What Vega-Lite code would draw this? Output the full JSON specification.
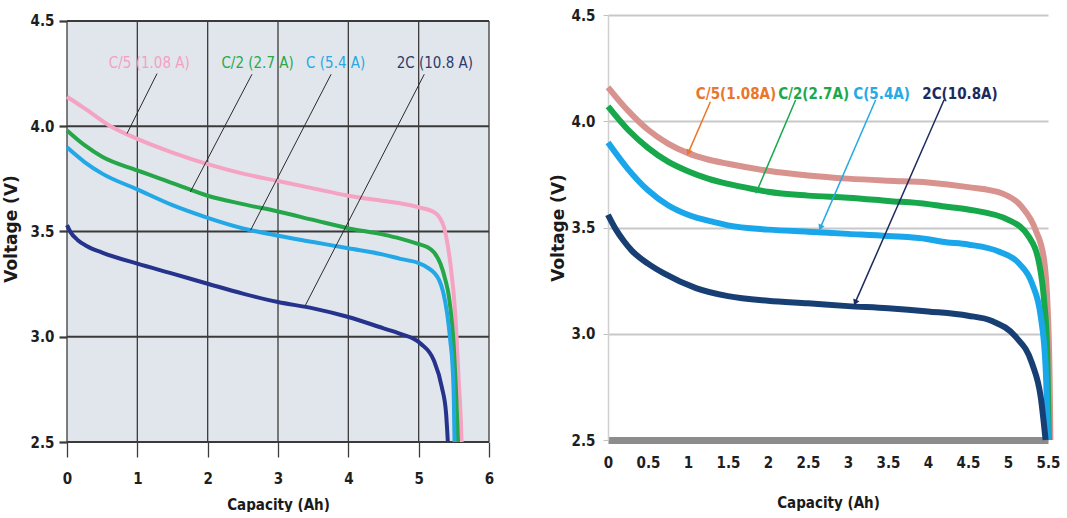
{
  "$schema": "https://vega.github.io/schema/vega-lite/v6.json",
  "background": "white",
  "padding": {"left": 2, "top": 8, "right": 0, "bottom": 0},
  "spacing": 55,
  "datasets": {
    "L": [
      {"s": "C/5", "x": 0, "v": 4.14}, {"s": "C/5", "x": 0.25, "v": 4.085}, {"s": "C/5", "x": 0.62, "v": 4.0}, {"s": "C/5", "x": 1, "v": 3.94}, {"s": "C/5", "x": 1.5, "v": 3.875}, {"s": "C/5", "x": 2, "v": 3.82}, {"s": "C/5", "x": 2.5, "v": 3.775}, {"s": "C/5", "x": 3, "v": 3.74}, {"s": "C/5", "x": 3.5, "v": 3.705}, {"s": "C/5", "x": 4, "v": 3.67}, {"s": "C/5", "x": 4.5, "v": 3.645}, {"s": "C/5", "x": 4.75, "v": 3.633}, {"s": "C/5", "x": 5, "v": 3.615}, {"s": "C/5", "x": 5.2, "v": 3.595}, {"s": "C/5", "x": 5.3, "v": 3.565}, {"s": "C/5", "x": 5.36, "v": 3.52}, {"s": "C/5", "x": 5.42, "v": 3.42}, {"s": "C/5", "x": 5.45, "v": 3.35}, {"s": "C/5", "x": 5.52, "v": 3.11}, {"s": "C/5", "x": 5.57, "v": 2.79}, {"s": "C/5", "x": 5.6, "v": 2.6}, {"s": "C/5", "x": 5.61, "v": 2.5},
      {"s": "C/2", "x": 0, "v": 3.98}, {"s": "C/2", "x": 0.25, "v": 3.91}, {"s": "C/2", "x": 0.5, "v": 3.855}, {"s": "C/2", "x": 1, "v": 3.79}, {"s": "C/2", "x": 1.5, "v": 3.73}, {"s": "C/2", "x": 2, "v": 3.67}, {"s": "C/2", "x": 2.5, "v": 3.63}, {"s": "C/2", "x": 3, "v": 3.595}, {"s": "C/2", "x": 3.5, "v": 3.555}, {"s": "C/2", "x": 4, "v": 3.515}, {"s": "C/2", "x": 4.5, "v": 3.485}, {"s": "C/2", "x": 4.74, "v": 3.466}, {"s": "C/2", "x": 5, "v": 3.44}, {"s": "C/2", "x": 5.12, "v": 3.426}, {"s": "C/2", "x": 5.22, "v": 3.4}, {"s": "C/2", "x": 5.31, "v": 3.347}, {"s": "C/2", "x": 5.38, "v": 3.27}, {"s": "C/2", "x": 5.43, "v": 3.19}, {"s": "C/2", "x": 5.5, "v": 2.95}, {"s": "C/2", "x": 5.53, "v": 2.75}, {"s": "C/2", "x": 5.56, "v": 2.5},
      {"s": "C", "x": 0, "v": 3.9}, {"s": "C", "x": 0.25, "v": 3.83}, {"s": "C", "x": 0.5, "v": 3.775}, {"s": "C", "x": 1, "v": 3.7}, {"s": "C", "x": 1.5, "v": 3.625}, {"s": "C", "x": 2, "v": 3.565}, {"s": "C", "x": 2.5, "v": 3.515}, {"s": "C", "x": 3, "v": 3.48}, {"s": "C", "x": 3.5, "v": 3.45}, {"s": "C", "x": 4, "v": 3.42}, {"s": "C", "x": 4.5, "v": 3.39}, {"s": "C", "x": 4.74, "v": 3.37}, {"s": "C", "x": 5, "v": 3.35}, {"s": "C", "x": 5.12, "v": 3.33}, {"s": "C", "x": 5.29, "v": 3.27}, {"s": "C", "x": 5.35, "v": 3.21}, {"s": "C", "x": 5.405, "v": 3.11}, {"s": "C", "x": 5.45, "v": 2.98}, {"s": "C", "x": 5.48, "v": 2.87}, {"s": "C", "x": 5.5, "v": 2.7}, {"s": "C", "x": 5.51, "v": 2.5},
      {"s": "2C", "x": 0, "v": 3.53}, {"s": "2C", "x": 0.05, "v": 3.497}, {"s": "2C", "x": 0.15, "v": 3.46}, {"s": "2C", "x": 0.285, "v": 3.43}, {"s": "2C", "x": 0.5, "v": 3.4}, {"s": "2C", "x": 1, "v": 3.347}, {"s": "2C", "x": 1.5, "v": 3.3}, {"s": "2C", "x": 2, "v": 3.252}, {"s": "2C", "x": 2.5, "v": 3.205}, {"s": "2C", "x": 3, "v": 3.165}, {"s": "2C", "x": 3.5, "v": 3.135}, {"s": "2C", "x": 4, "v": 3.094}, {"s": "2C", "x": 4.5, "v": 3.04}, {"s": "2C", "x": 4.74, "v": 3.014}, {"s": "2C", "x": 5.03, "v": 2.967}, {"s": "2C", "x": 5.215, "v": 2.888}, {"s": "2C", "x": 5.33, "v": 2.76}, {"s": "2C", "x": 5.39, "v": 2.635}, {"s": "2C", "x": 5.415, "v": 2.5}
    ],
    "LT": [
      {"s": "C/5", "label": "C/5 (1.08 A)", "x": 1.17, "v": 4.3},
      {"s": "C/2", "label": "C/2 (2.7 A)", "x": 2.71, "v": 4.3},
      {"s": "C", "label": "C (5.4 A)", "x": 3.82, "v": 4.3},
      {"s": "2C", "label": "2C (10.8 A)", "x": 5.23, "v": 4.3}
    ],
    "LL": [
      {"s": "C/5", "x1": 1.28, "v1": 4.25, "x2": 0.853, "v2": 3.965},
      {"s": "C/2", "x1": 2.63, "v1": 4.247, "x2": 1.754, "v2": 3.688},
      {"s": "C", "x1": 3.755, "v1": 4.247, "x2": 2.61, "v2": 3.506},
      {"s": "2C", "x1": 5.08, "v1": 4.247, "x2": 3.39, "v2": 3.15}
    ],
    "LBG": [{"x1": 0, "x2": 6, "v1": 2.5, "v2": 4.5}],
    "LGV": [{"g": 0}, {"g": 1}, {"g": 2}, {"g": 3}, {"g": 4}, {"g": 5}, {"g": 6}],
    "LGH": [{"h": 2.5}, {"h": 3}, {"h": 3.5}, {"h": 4}, {"h": 4.5}],
    "R": [
      {"s": "C/5", "x": 0, "v": 4.16}, {"s": "C/5", "x": 0.25, "v": 4.05}, {"s": "C/5", "x": 0.5, "v": 3.96}, {"s": "C/5", "x": 0.75, "v": 3.895}, {"s": "C/5", "x": 1, "v": 3.85}, {"s": "C/5", "x": 1.25, "v": 3.82}, {"s": "C/5", "x": 1.5, "v": 3.8}, {"s": "C/5", "x": 2, "v": 3.767}, {"s": "C/5", "x": 2.5, "v": 3.745}, {"s": "C/5", "x": 3, "v": 3.73}, {"s": "C/5", "x": 3.5, "v": 3.72}, {"s": "C/5", "x": 4, "v": 3.712}, {"s": "C/5", "x": 4.5, "v": 3.69}, {"s": "C/5", "x": 4.93, "v": 3.66}, {"s": "C/5", "x": 5.17, "v": 3.598}, {"s": "C/5", "x": 5.345, "v": 3.488}, {"s": "C/5", "x": 5.45, "v": 3.35}, {"s": "C/5", "x": 5.5, "v": 3.08}, {"s": "C/5", "x": 5.52, "v": 2.8}, {"s": "C/5", "x": 5.53, "v": 2.5},
      {"s": "C/2", "x": 0, "v": 4.07}, {"s": "C/2", "x": 0.25, "v": 3.96}, {"s": "C/2", "x": 0.5, "v": 3.875}, {"s": "C/2", "x": 0.75, "v": 3.81}, {"s": "C/2", "x": 1, "v": 3.765}, {"s": "C/2", "x": 1.25, "v": 3.73}, {"s": "C/2", "x": 1.5, "v": 3.705}, {"s": "C/2", "x": 1.87, "v": 3.677}, {"s": "C/2", "x": 2, "v": 3.668}, {"s": "C/2", "x": 2.5, "v": 3.65}, {"s": "C/2", "x": 3, "v": 3.64}, {"s": "C/2", "x": 3.5, "v": 3.625}, {"s": "C/2", "x": 4, "v": 3.61}, {"s": "C/2", "x": 4.18, "v": 3.6}, {"s": "C/2", "x": 4.5, "v": 3.585}, {"s": "C/2", "x": 5.01, "v": 3.535}, {"s": "C/2", "x": 5.26, "v": 3.457}, {"s": "C/2", "x": 5.39, "v": 3.33}, {"s": "C/2", "x": 5.45, "v": 3.16}, {"s": "C/2", "x": 5.49, "v": 2.92}, {"s": "C/2", "x": 5.51, "v": 2.5},
      {"s": "C", "x": 0, "v": 3.9}, {"s": "C", "x": 0.25, "v": 3.775}, {"s": "C", "x": 0.5, "v": 3.675}, {"s": "C", "x": 0.75, "v": 3.605}, {"s": "C", "x": 1, "v": 3.56}, {"s": "C", "x": 1.325, "v": 3.525}, {"s": "C", "x": 1.5, "v": 3.51}, {"s": "C", "x": 2, "v": 3.49}, {"s": "C", "x": 2.5, "v": 3.48}, {"s": "C", "x": 3, "v": 3.47}, {"s": "C", "x": 3.5, "v": 3.46}, {"s": "C", "x": 4, "v": 3.445}, {"s": "C", "x": 4.18, "v": 3.433}, {"s": "C", "x": 4.5, "v": 3.42}, {"s": "C", "x": 4.89, "v": 3.386}, {"s": "C", "x": 5.14, "v": 3.33}, {"s": "C", "x": 5.3, "v": 3.237}, {"s": "C", "x": 5.41, "v": 3.08}, {"s": "C", "x": 5.47, "v": 2.845}, {"s": "C", "x": 5.5, "v": 2.5},
      {"s": "2C", "x": 0, "v": 3.56}, {"s": "2C", "x": 0.1, "v": 3.49}, {"s": "2C", "x": 0.2, "v": 3.435}, {"s": "2C", "x": 0.3, "v": 3.39}, {"s": "2C", "x": 0.5, "v": 3.33}, {"s": "2C", "x": 0.7, "v": 3.284}, {"s": "2C", "x": 1.1, "v": 3.215}, {"s": "2C", "x": 1.5, "v": 3.177}, {"s": "2C", "x": 2, "v": 3.155}, {"s": "2C", "x": 2.5, "v": 3.143}, {"s": "2C", "x": 3, "v": 3.13}, {"s": "2C", "x": 3.5, "v": 3.12}, {"s": "2C", "x": 4, "v": 3.105}, {"s": "2C", "x": 4.5, "v": 3.085}, {"s": "2C", "x": 4.8, "v": 3.06}, {"s": "2C", "x": 5.095, "v": 2.986}, {"s": "2C", "x": 5.3, "v": 2.861}, {"s": "2C", "x": 5.41, "v": 2.7}, {"s": "2C", "x": 5.47, "v": 2.5}
    ],
    "RT": [
      {"s": "C/5", "label": "C/5(1.08A)", "x": 1.6, "v": 4.13},
      {"s": "C/2", "label": "C/2(2.7A)", "x": 2.57, "v": 4.13},
      {"s": "C", "label": "C(5.4A)", "x": 3.42, "v": 4.13},
      {"s": "2C", "label": "2C(10.8A)", "x": 4.4, "v": 4.13}
    ],
    "RA": [
      {"s": "C/5", "x1": 1.28, "v1": 4.092, "x2": 1.01, "v2": 3.857},
      {"s": "C/2", "x1": 2.345, "v1": 4.1, "x2": 1.866, "v2": 3.676},
      {"s": "C", "x1": 3.345, "v1": 4.1, "x2": 2.66, "v2": 3.504},
      {"s": "2C", "x1": 4.2, "v1": 4.1, "x2": 3.095, "v2": 3.151}
    ]
  },
  "hconcat": [
    {
      "width": 422,
      "height": 427,
      "view": {"stroke": null},
      "resolve": {"scale": {"color": "independent"}},
      "layer": [
        {
          "data": {"name": "LBG"},
          "mark": {"type": "rect", "color": "#e1e6ec"},
          "encoding": {
            "x": {"field": "x1", "type": "quantitative", "scale": {"domain": [0, 6], "nice": false, "zero": false},
              "axis": {"title": "Capacity (Ah)", "values": [0, 1, 2, 3, 4, 5, 6], "format": "d", "labelFlush": false, "grid": false, "domain": false, "tickColor": "#3c3c3c", "tickWidth": 1.3, "tickSize": 15, "labelPadding": 14, "titlePadding": 11, "titleFont": "DejaVu Sans Condensed", "titleFontSize": 15}},
            "x2": {"field": "x2"},
            "y": {"field": "v1", "type": "quantitative", "scale": {"domain": [2.5, 4.5285], "nice": false, "zero": false},
              "axis": {"title": "Voltage (V)", "values": [2.5, 3, 3.5, 4, 4.5], "format": ".1f", "grid": false, "domain": false, "tickColor": "#3a3a3a", "tickWidth": 2.2, "tickSize": 8, "labelPadding": 5, "titlePadding": 10, "titleFont": "DejaVu Sans", "titleFontSize": 17}},
            "y2": {"field": "v2"}
          }
        },
        {
          "data": {"name": "LGV"},
          "mark": {"type": "rule", "color": "#3c3c3c", "strokeWidth": 1.3},
          "encoding": {
            "x": {"field": "g", "type": "quantitative"},
            "y": {"datum": 2.5, "type": "quantitative"},
            "y2": {"datum": 4.5}
          }
        },
        {
          "data": {"name": "LGH"},
          "mark": {"type": "rule", "color": "#3a3a3a", "strokeWidth": 2.2},
          "encoding": {
            "y": {"field": "h", "type": "quantitative"},
            "x": {"datum": 0, "type": "quantitative"},
            "x2": {"datum": 6}
          }
        },
        {
          "data": {"name": "L"},
          "mark": {"type": "line", "strokeWidth": 4, "interpolate": "monotone"},
          "encoding": {
            "x": {"field": "x", "type": "quantitative"},
            "y": {"field": "v", "type": "quantitative"},
            "color": {"field": "s", "type": "nominal", "legend": null,
              "scale": {"domain": ["C/5", "C/2", "C", "2C"], "range": ["#f5a3c3", "#25a649", "#22a8e6", "#26338c"]}}
          }
        },
        {
          "data": {"name": "LL"},
          "mark": {"type": "rule", "color": "#2b2b2b", "strokeWidth": 1},
          "encoding": {
            "x": {"field": "x1", "type": "quantitative"},
            "y": {"field": "v1", "type": "quantitative"},
            "x2": {"field": "x2"},
            "y2": {"field": "v2"}
          }
        },
        {
          "data": {"name": "LT"},
          "mark": {"type": "text", "font": "DejaVu Sans Condensed", "fontSize": 15, "baseline": "middle", "align": "center"},
          "encoding": {
            "x": {"field": "x", "type": "quantitative"},
            "y": {"field": "v", "type": "quantitative"},
            "text": {"field": "label"},
            "color": {"field": "s", "type": "nominal", "legend": null,
              "scale": {"domain": ["C/5", "C/2", "C", "2C"], "range": ["#f4a1c1", "#2aa84a", "#28a9e1", "#303a6a"]}}
          }
        }
      ]
    },
    {
      "width": 440,
      "height": 425,
      "view": {"stroke": null},
      "resolve": {"scale": {"color": "independent"}},
      "layer": [
        {
          "data": {"name": "R"},
          "mark": {"type": "line", "strokeWidth": 6, "interpolate": "monotone"},
          "encoding": {
            "x": {"field": "x", "type": "quantitative", "scale": {"domain": [0, 5.5], "nice": false, "zero": false},
              "axis": {"title": "Capacity (Ah)", "values": [0, 0.5, 1, 1.5, 2, 2.5, 3, 3.5, 4, 4.5, 5, 5.5], "tickCount": 12, "labelExpr": "format(datum.value, '~g')", "labelFlush": false, "labelOverlap": false, "labelBound": false, "grid": false, "domain": true, "domainColor": "#8c8c8c", "domainWidth": 7, "ticks": false, "labelPadding": 15, "titlePadding": 25, "titleFont": "DejaVu Sans Condensed", "titleFontSize": 15}},
            "y": {"field": "v", "type": "quantitative", "scale": {"domain": [2.5, 4.5], "nice": false, "zero": false},
              "axis": {"title": "Voltage (V)", "values": [2.5, 3, 3.5, 4, 4.5], "format": ".1f", "grid": true, "gridColor": "#c8c8c8", "gridWidth": 2, "domain": true, "domainColor": "#d0d0d0", "domainWidth": 1.5, "tickColor": "#c0c0c0", "tickSize": 5, "labelPadding": 8, "titlePadding": 4, "titleFont": "DejaVu Sans", "titleFontSize": 17}},
            "color": {"field": "s", "type": "nominal", "legend": null,
              "scale": {"domain": ["C/5", "C/2", "C", "2C"], "range": ["#d8938e", "#17a84b", "#1aa6ea", "#183f73"]}}
          }
        },
        {
          "data": {"name": "RA"},
          "mark": {"type": "rule", "strokeWidth": 1.5},
          "encoding": {
            "x": {"field": "x1", "type": "quantitative"},
            "y": {"field": "v1", "type": "quantitative"},
            "x2": {"field": "x2"},
            "y2": {"field": "v2"},
            "color": {"field": "s", "type": "nominal", "legend": null,
              "scale": {"domain": ["C/5", "C/2", "C", "2C"], "range": ["#e8762b", "#1aa84d", "#25aae6", "#1c2a5e"]}}
          }
        },
        {
          "data": {"name": "RA"},
          "mark": {"type": "point", "shape": "triangle", "filled": true, "opacity": 1, "size": 45, "angle": 203.5},
          "encoding": {
            "x": {"field": "x2", "type": "quantitative"},
            "y": {"field": "v2", "type": "quantitative"},
            "color": {"field": "s", "type": "nominal", "legend": null,
              "scale": {"domain": ["C/5", "C/2", "C", "2C"], "range": ["#e8762b", "#1aa84d", "#25aae6", "#1c2a5e"]}}
          }
        },
        {
          "data": {"name": "RT"},
          "mark": {"type": "text", "font": "DejaVu Sans Condensed", "fontSize": 15, "fontWeight": "bold", "baseline": "middle", "align": "center"},
          "encoding": {
            "x": {"field": "x", "type": "quantitative"},
            "y": {"field": "v", "type": "quantitative"},
            "text": {"field": "label"},
            "color": {"field": "s", "type": "nominal", "legend": null,
              "scale": {"domain": ["C/5", "C/2", "C", "2C"], "range": ["#e8762b", "#1aa84d", "#25aae6", "#1c2a5e"]}}
          }
        }
      ]
    }
  ],
  "resolve": {"scale": {"color": "independent"}},
  "config": {
    "view": {"stroke": null},
    "axis": {
      "labelFont": "DejaVu Sans Condensed",
      "labelFontSize": 15,
      "labelFontWeight": "bold",
      "labelColor": "#1e1e1e",
      "labelOverlap": false,
      "titleFontWeight": "bold",
      "titleColor": "#1a1a1a"
    }
  }
}
